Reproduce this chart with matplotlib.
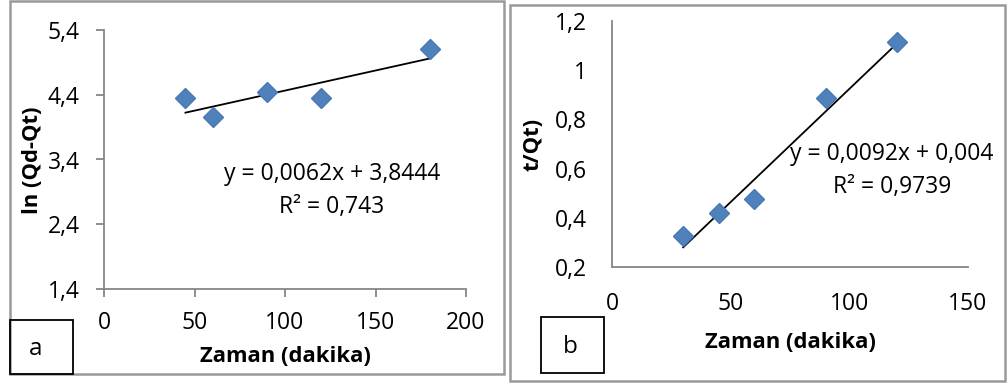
import matplotlib
matplotlib.use("Agg")
import matplotlib.pyplot as plt
from matplotlib.patches import Rectangle
from matplotlib.ticker import FuncFormatter
import numpy as np

plt.rcParams['font.family'] = ['Open Sans', 'DejaVu Sans']

# ---- data ----
time_a = [45, 60, 90, 120, 180]
ln_qd_qt = [4.35, 4.06, 4.44, 4.35, 5.11]
slope_a, intercept_a = 0.0062, 3.8444
eq_a = "y = 0,0062x + 3,8444"
r2_a = "R² = 0,743"

time_b = [30, 45, 60, 90, 120]
t_qt = [0.326, 0.42, 0.476, 0.887, 1.115]
slope_b, intercept_b = 0.0092, 0.004
eq_b = "y = 0,0092x + 0,004"
r2_b = "R² = 0,9739"

xticks_a = [0, 50, 100, 150, 200]
yticks_a = [1.4, 2.4, 3.4, 4.4, 5.4]
xticks_b = [0, 50, 100, 150]
yticks_b = [0.2, 0.4, 0.6, 0.8, 1.0, 1.2]

xlabel = "Zaman (dakika)"
ylabel_a = "ln (Qd-Qt)"
ylabel_b = "t/Qt)"
panel_a = "a"
panel_b = "b"

W, H = 1008, 383
fig = plt.figure(figsize=(W / 100, H / 100), dpi=100)


def fx(px):
    return px / W


def fy(py):
    return 1 - py / H


def ax_rect(x0, x1, y0, y1):
    return [fx(x0), fy(y1), fx(x1) - fx(x0), fy(y0) - fy(y1)]


def comma(v, pos):
    s = ("%g" % round(v, 2))
    return s.replace('.', ',')


blue = '#4F81BD'
gray = '#868686'
fs = 16.5
fsb = 15.8

# frames
fig.patches.append(Rectangle((fx(10), fy(374)), fx(504) - fx(10), fy(1) - fy(374),
                             transform=fig.transFigure, fill=False, ec='#9a9a9a', lw=1.8))
fig.patches.append(Rectangle((fx(510), fy(381)), fx(1005) - fx(510), fy(5) - fy(381),
                             transform=fig.transFigure, fill=False, ec='#9a9a9a', lw=1.8))

# ---- panel a ----
axa = fig.add_axes(ax_rect(104, 466, 30, 289))
axa.plot(time_a, ln_qd_qt, 'D', color=blue, ms=10, mec='#4A7AB3', zorder=3)
xf = np.array([min(time_a), max(time_a)])
axa.plot(xf, slope_a * xf + intercept_a, color='black', lw=1.3, zorder=2)
axa.set_xlim(0, 200)
axa.set_ylim(1.4, 5.4)
axa.set_xticks(xticks_a)
axa.set_yticks(yticks_a)
axa.yaxis.set_major_formatter(FuncFormatter(comma))
for s in ['top', 'right']:
    axa.spines[s].set_visible(False)
for s in ['left', 'bottom']:
    axa.spines[s].set_color(gray)
    axa.spines[s].set_linewidth(1.3)
axa.tick_params(axis='both', colors=gray, length=5.5, width=1.3, labelsize=fs,
                labelcolor='black')
axa.tick_params(axis='y', pad=12)
axa.tick_params(axis='x', pad=10)
fig.text(fx(285), fy(357), xlabel, fontsize=fsb, fontweight='bold', ha='center', va='center')
fig.text(fx(32), fy(160), ylabel_a, fontsize=fsb, fontweight='bold', ha='center', va='center',
         rotation=90)
fig.text(fx(332), fy(174), eq_a, fontsize=fs, ha='center', va='center')
fig.text(fx(332), fy(207), r2_a, fontsize=fs, ha='center', va='center')
fig.patches.append(Rectangle((fx(10), fy(374)), fx(73) - fx(10), fy(320) - fy(374),
                             transform=fig.transFigure, fill=False, ec='black', lw=1.3))
fig.text(fx(36), fy(349), panel_a, fontsize=fs + 1, ha='center', va='center')

# ---- panel b ----
axb = fig.add_axes(ax_rect(612, 968, 21, 267))
axb.plot(time_b, t_qt, 'D', color=blue, ms=10, mec='#4A7AB3', zorder=3)
xf = np.array([min(time_b), max(time_b)])
axb.plot(xf, slope_b * xf + intercept_b, color='black', lw=1.3, zorder=2)
axb.set_xlim(0, 150)
axb.set_ylim(0.2, 1.2)
axb.set_xticks(xticks_b)
axb.set_yticks(yticks_b)
axb.yaxis.set_major_formatter(FuncFormatter(comma))
for s in ['top', 'right']:
    axb.spines[s].set_visible(False)
for s in ['left', 'bottom']:
    axb.spines[s].set_color(gray)
    axb.spines[s].set_linewidth(1.3)
axb.tick_params(axis='both', length=0, labelsize=fs, labelcolor='black')
axb.tick_params(axis='y', pad=18)
axb.tick_params(axis='x', pad=18)
fig.text(fx(790), fy(342), xlabel, fontsize=fsb, fontweight='bold', ha='center', va='center')
fig.text(fx(533), fy(144), ylabel_b, fontsize=fsb, fontweight='bold', ha='center', va='center',
         rotation=90)
fig.text(fx(892), fy(154), eq_b, fontsize=fs, ha='center', va='center')
fig.text(fx(892), fy(187), r2_b, fontsize=fs, ha='center', va='center')
fig.patches.append(Rectangle((fx(541), fy(373)), fx(604) - fx(541), fy(317) - fy(373),
                             transform=fig.transFigure, fill=False, ec='black', lw=1.3))
fig.text(fx(570), fy(347), panel_b, fontsize=fs + 1, ha='center', va='center')

fig.savefig("out.png", dpi=100)
